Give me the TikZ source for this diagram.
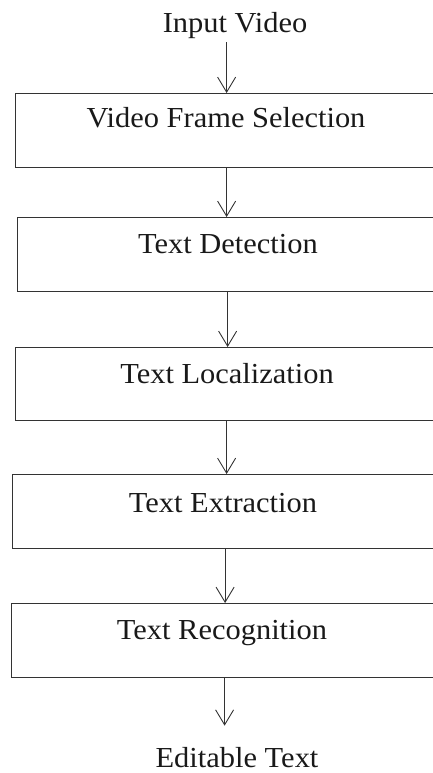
\documentclass[tikz,border=0pt]{standalone}
\usepackage{fontspec}
\setmainfont[FakeStretch=1.05]{Liberation Serif}
\usetikzlibrary{arrows.meta}
\begin{document}
\begin{tikzpicture}[x=1pt,y=-1pt,
  box/.style={draw=black!80, line width=1.2pt, inner sep=0pt, anchor=north west, minimum height=74pt},
  lbl/.style={font=\fontsize{29}{31}\selectfont, inner sep=0pt, anchor=base, text=black!90},
  arr/.style={draw=black!80, line width=0.9pt, -{Straight Barb[length=15pt,width=18pt,line width=0.9pt]}}]
\useasboundingbox (0,0) rectangle (433,773);
\node[lbl] (in) at (235,33) {Input Video};
\node[box, minimum width=422pt] (b1) at (15,93) {};
\node[box, minimum width=420pt] (b2) at (17,217) {};
\node[box, minimum width=422pt, minimum height=73pt] (b3) at (15,347) {};
\node[box, minimum width=425pt] (b4) at (12,474) {};
\node[box, minimum width=426pt] (b5) at (11,603) {};
\node[lbl] (t1) at (226,128) {Video Frame Selection};
\node[lbl] (t2) at (228,253) {Text Detection};
\node[lbl] (t3) at (227,383) {Text Localization};
\node[lbl] (t4) at (223,512) {Text Extraction};
\node[lbl] (t5) at (222,639) {Text Recognition};
\node[lbl] (out) at (237,767) {Editable Text};
\draw[arr, shorten <=3pt] (in.south -| b1.north) -- (b1.north);
\draw[arr] (b1.south) -- (b2.north -| b1.south);
\draw[arr] (b2.south) -- (b3.north -| b2.south);
\draw[arr] (b3.south) -- (b4.north -| b3.south);
\draw[arr] (b4.south) -- (b5.north -| b4.south);
\draw[arr, shorten >=21pt] (b5.south) -- (out.north -| b5.south);
\end{tikzpicture}
\end{document}
